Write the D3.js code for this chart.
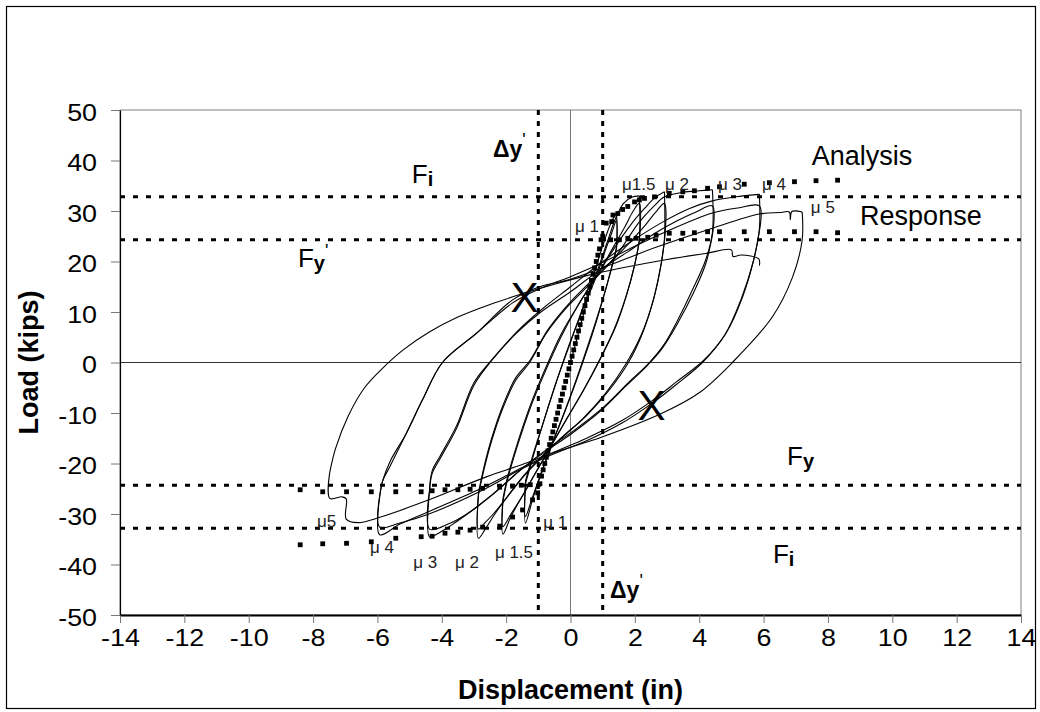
<!DOCTYPE html>
<html><head><meta charset="utf-8">
<script src="https://cdn.jsdelivr.net/npm/d3@7"></script>
<style>body{margin:0;background:#fff}svg{display:block}text{font-family:Arial,"Liberation Sans",sans-serif}</style>
</head><body>
<svg id="c" width="1040" height="712"></svg>
<script>
// ---------- data ----------
const xTicks = [-14,-12,-10,-8,-6,-4,-2,0,2,4,6,8,10,12,14];
const yTicks = [-50,-40,-30,-20,-10,0,10,20,30,40,50];
const refLoads = [32.8, 24.3, -24.3, -32.8];   // Fi, Fy', -Fy, -Fi
const refDisps = [-1, 1];                       // -Δy', Δy'

// measured hysteresis (displacement in, load kips)
const init = [[0,0],[0.4,9.5],[0.8,19],[1.1,25],[1.3,28.2],[1.43,29.6]];
const u1a = [[1.43,29.6],[1.43,23.0],[1.28,19],[1.05,13.5],[0.7,6],[0.3,-1.5],[-0.1,-8.5],[-0.5,-15],[-0.85,-21],[-1.15,-26.5],[-1.4,-31.8],[-1.4,-24.0]];
const r1a = [[-1.4,-24.0],[-1.2,-19.5],[-0.9,-13],[-0.5,-5],[-0.1,2.5],[0.35,10],[0.8,17],[1.1,22.5],[1.3,26],[1.43,28.2],[1.43,22.5]];
const u1b = [[1.43,22.5],[1.25,18],[1.0,12.5],[0.6,4.5],[0.2,-3],[-0.2,-10],[-0.6,-16.5],[-0.95,-22.5],[-1.2,-27],[-1.4,-30.5],[-1.4,-23.5]];
const r1b = [[-1.4,-23.5],[-1.2,-19],[-0.85,-12],[-0.45,-4],[0,4],[0.45,12],[0.85,18.5],[1.15,24],[1.4,28.5],[1.65,31.5],[1.9,32.7],[2.14,33.0]];
const u15a = [[2.14,33.0],[2.14,24.5],[2.0,19.5],[1.75,13.5],[1.4,7],[0.95,1],[0.45,-5],[-0.1,-11],[-0.6,-16.5],[-1.05,-21.5],[-1.5,-26.5],[-1.85,-30.5],[-2.1,-34.0],[-2.1,-27.5]];
const r15a = [[-2.1,-27.5],[-1.95,-23],[-1.65,-16.5],[-1.25,-9],[-0.8,-2],[-0.3,5],[0.25,11.5],[0.85,17.5],[1.3,22.5],[1.7,27],[1.95,30],[2.14,31.5],[2.14,24.0]];
const u15b = [[2.14,24.0],[1.98,19],[1.72,13],[1.35,6.5],[0.9,0.5],[0.4,-5.5],[-0.15,-11.5],[-0.65,-17],[-1.1,-22],[-1.5,-26.5],[-1.85,-30],[-2.1,-32.5],[-2.1,-27.0]];
const r15b = [[-2.1,-27.0],[-1.95,-22.5],[-1.65,-16],[-1.25,-8.5],[-0.8,-1.5],[-0.3,5.5],[0.3,12],[0.9,18],[1.4,23],[1.9,27.5],[2.3,30.5],[2.6,32.5],[2.92,33.8]];
const u2a = [[2.92,33.8],[2.92,24.6],[2.82,19.5],[2.6,13],[2.25,6],[1.8,0],[1.2,-5.5],[0.5,-10.5],[-0.2,-14.5],[-0.8,-18],[-1.4,-22],[-1.9,-26],[-2.35,-30],[-2.65,-33],[-2.86,-34.8],[-2.86,-26.2]];
const r2a = [[-2.86,-26.2],[-2.7,-21.5],[-2.45,-15.5],[-2.1,-9],[-1.7,-3.5],[-1.27,0],[-0.75,5.8],[-0.1,11],[0.6,15.5],[1.2,19.5],[1.8,23.5],[2.3,27],[2.65,29.8],[2.92,31.5],[2.92,24.0]];
const u2b = [[2.92,24.0],[2.8,19],[2.58,12.5],[2.2,5.5],[1.7,-0.5],[1.1,-6],[0.4,-11],[-0.3,-15],[-0.85,-18.5],[-1.45,-22.5],[-1.95,-26.5],[-2.4,-30],[-2.7,-32],[-2.86,-33],[-2.86,-25.8]];
const r2b = [[-2.86,-25.8],[-2.7,-21],[-2.45,-15],[-2.1,-8.5],[-1.7,-3],[-1.25,0.5],[-0.7,6.5],[0,12],[0.7,16.5],[1.4,21],[2.1,27.5],[2.6,31],[2.92,32.8],[3.5,33.7],[4.0,34.0],[4.41,34.2]];
const u3a = [[4.41,34.2],[4.41,25.8],[4.2,20.3],[3.79,14.4],[3.38,9],[2.9,3.5],[2.45,0],[1.8,-4],[1.0,-9],[0.1,-13.5],[-0.7,-17],[-1.5,-21],[-2.3,-25.5],[-3.0,-29],[-3.7,-32.2],[-4.1,-33.8],[-4.38,-34.5],[-4.38,-25.5]];
const r3a = [[-4.38,-25.5],[-4.3,-22],[-4.05,-19],[-3.54,-13],[-3.0,-4.5],[-2.5,0],[-1.68,5.8],[-0.96,9.8],[0,14],[0.9,18.3],[1.8,22],[2.6,25.5],[3.3,28],[3.9,29.8],[4.41,31.0],[4.41,25.2]];
const u3b = [[4.41,25.2],[4.2,19.5],[3.8,13.5],[3.35,8],[2.85,2.8],[2.4,-0.5],[1.75,-4.5],[0.95,-9.5],[0.05,-14],[-0.75,-17.5],[-1.6,-21.5],[-2.4,-26],[-3.1,-29.5],[-3.8,-32],[-4.38,-33.0],[-4.38,-25.2]];
const r3b = [[-4.38,-25.2],[-4.3,-21.5],[-4.05,-18.5],[-3.54,-12.5],[-3.0,-4],[-2.45,0.5],[-1.6,6.5],[-0.9,10.5],[0,15],[0.9,19.5],[1.9,24],[2.86,27.8],[3.7,30.5],[4.41,32.0],[5.25,32.9],[5.87,33.3]];
const u4a = [[5.87,33.3],[5.87,26.5],[5.7,20.5],[5.35,13],[4.85,6],[4.15,0.5],[3.3,-3.8],[2.55,-7.5],[1.6,-11.5],[0.5,-15],[-0.6,-18],[-1.5,-20.8],[-2.8,-25],[-4.4,-29.5],[-5.3,-32],[-5.93,-34.1],[-5.93,-26.6]];
const r4a = [[-5.93,-26.6],[-5.83,-23.3],[-5.6,-19.5],[-5.1,-14],[-4.6,-7.4],[-3.98,0],[-2.92,5.8],[-1.8,11.8],[-1.0,14.5],[0,17],[0.9,19.5],[2.0,23],[2.86,25.6],[4.41,29.6],[5.2,30.6],[5.87,31.0],[5.87,26.0]];
const u4b = [[5.87,26.0],[5.68,20],[5.3,12.5],[4.8,5.5],[4.1,0],[3.3,-4.3],[2.55,-8],[1.6,-12],[0.5,-15.5],[-0.6,-18.3],[-1.5,-21],[-2.8,-25.5],[-4.4,-30],[-5.3,-31.8],[-5.93,-32.6],[-5.93,-26.4]];
const r4b = [[-5.93,-26.4],[-5.83,-23.3],[-5.62,-20.7],[-5.1,-14],[-4.6,-7.4],[-3.98,0],[-2.92,5.8],[-1.8,12.4],[-0.96,15],[0,16.5],[1.1,19],[2.7,22.9],[4.41,26.6],[5.87,29.4],[6.5,29.7],[6.8,29.8],[6.83,28.3],[6.88,29.9],[7.2,29.8]];
const u5 = [[7.2,29.8],[7.2,24.3],[6.9,16.9],[6.27,9],[5.03,0],[4.0,-6],[2.86,-10],[1.0,-14.7],[-0.6,-18],[-1.5,-20.2],[-2.6,-22.6],[-4.4,-27.2],[-5.9,-30.6],[-6.6,-31.7],[-6.97,-31.0],[-6.97,-27.0],[-7.1,-26.6],[-7.48,-26.9],[-7.48,-21.7]];
const r5 = [[-7.48,-21.7],[-7.3,-17],[-6.9,-10.5],[-6.4,-5],[-5.85,-1.2],[-5.2,2.5],[-4.4,6],[-3.5,9],[-2.5,11.5],[-1.5,13.6],[-0.5,15.5],[0.5,17.2],[1.5,18.6],[3,20.4],[4.2,21.6],[5.0,22.3],[5.05,21.0],[5.3,21.3],[5.85,20.5],[5.87,19.2]];
const responseLoops = [init,u1a,r1a,u1b,r1b,u15a,r15a,u15b,r15b,u2a,r2a,u2b,r2b,u3a,r3a,u3b,r3b,u4a,r4a,u4b,r4b,u5,r5];

// analysis (square markers)
const analysisPos = [[0,0],[0.1,2.5],[0.2,5],[0.3,7.5],[0.4,10],[0.5,12.5],[0.6,15],[0.7,17.5],[0.8,20],[0.9,22.5],[1.0,25],[1.11,27.6],[1.28,27.9],[1.32,29.2],[1.47,29.5],[1.62,30.3],[1.78,30.9],[1.99,31.8],[2.14,32.2],[2.3,32.5],[2.61,32.8],[3.07,33.5],[3.49,33.8],[3.85,34.0],[4.26,34.5],[4.63,34.8],[5.4,35.3],[6.18,35.6],[6.96,35.8],[7.63,36.0],[8.3,36.1]];
const analysisNeg = [[-0.1,-2.5],[-0.2,-5],[-0.3,-7.5],[-0.4,-10],[-0.5,-12.5],[-0.6,-15],[-0.7,-17.5],[-0.8,-20],[-0.9,-22.5],[-1.02,-25.8],[-1.18,-27.2],[-1.49,-29.2],[-1.8,-30.6],[-2.2,-32.4],[-2.73,-32.6],[-3.12,-33.2],[-3.5,-33.6],[-3.9,-33.8],[-4.3,-34.4],[-4.64,-34.5],[-5.43,-34.8],[-6.19,-35.5],[-6.96,-35.8],[-7.7,-35.9],[-8.4,-36.1]];
const responsePos = [[0.05,1.25],[0.15,3.75],[0.25,6.25],[0.35,8.75],[0.45,11.25],[0.55,13.75],[0.65,16.25],[0.75,18.75],[0.85,21.25],[0.95,24.3],[1.25,24.3],[1.52,24.3],[1.78,24.6],[2.04,24.6],[2.4,24.8],[2.66,25.2],[3.07,25.6],[3.49,25.6],[3.85,25.7],[4.26,25.9],[4.63,25.9],[5.4,25.9],[6.18,25.9],[6.96,25.9],[7.63,25.9],[8.3,25.7]];
const responseNeg = [[-0.05,-1.25],[-0.15,-3.75],[-0.25,-6.25],[-0.35,-8.75],[-0.45,-11.25],[-0.55,-13.75],[-0.65,-16.25],[-0.75,-18.75],[-0.85,-21.25],[-0.95,-24.0],[-1.25,-24.2],[-1.53,-24.3],[-1.8,-24.5],[-2.2,-24.7],[-2.73,-24.9],[-3.12,-25.1],[-3.5,-25.2],[-3.9,-25.2],[-4.3,-25.4],[-4.64,-25.6],[-5.43,-25.6],[-6.19,-25.6],[-6.96,-25.6],[-7.7,-25.6],[-8.4,-25.2]];

const crossMarks = [[-1.43,13.0],[2.52,-8.4]];
const muLabels = [
  {t:"\u03bc1.5", x:1.6, y:34.2}, {t:"\u03bc 2", x:2.94, y:34.2}, {t:"\u03bc 3", x:4.58, y:34.2},
  {t:"\u03bc 4", x:5.95, y:34.2}, {t:"\u03bc 5", x:7.47, y:29.6}, {t:"\u03bc 1", x:0.14, y:25.8},
  {t:"\u03bc5", x:-7.88, y:-32.6}, {t:"\u03bc 4", x:-6.23, y:-37.7}, {t:"\u03bc 3", x:-4.89, y:-40.7},
  {t:"\u03bc 2", x:-3.59, y:-40.7}, {t:"\u03bc 1.5", x:-2.35, y:-38.7}, {t:"\u03bc 1", x:-0.85, y:-32.8}
];

// ---------- drawing ----------
const svg = d3.select('#c');
const x = d3.scaleLinear().domain([-14,14]).range([120,1021]);
const y = d3.scaleLinear().domain([-50,50]).range([615,110]);

svg.append('rect').attr('x',6.5).attr('y',6.5).attr('width',1029).attr('height',702)
  .attr('fill','#fff').attr('stroke','#000').attr('stroke-width',1.2);

// plot area border
svg.append('rect').attr('x',x(-14)).attr('y',y(50)).attr('width',x(14)-x(-14)).attr('height',y(-50)-y(50))
  .attr('fill','none').attr('stroke','#808080').attr('stroke-width',1);

// zero lines
svg.append('line').attr('x1',x(-14)).attr('x2',x(14)).attr('y1',y(0)).attr('y2',y(0)).attr('stroke','#333').attr('stroke-width',1);
svg.append('line').attr('x1',x(0)).attr('x2',x(0)).attr('y1',y(50)).attr('y2',y(-50)).attr('stroke','#777').attr('stroke-width',1);

// reference dotted lines
svg.selectAll('.rh').data(refLoads).join('line')
  .attr('x1',x(-14)).attr('x2',x(14)).attr('y1',d=>y(d)).attr('y2',d=>y(d))
  .attr('stroke','#000').attr('stroke-width',3).attr('stroke-dasharray','5,8');
svg.selectAll('.rv').data(refDisps).join('line')
  .attr('x1',d=>x(d)).attr('x2',d=>x(d)).attr('y1',y(50)).attr('y2',y(-50))
  .attr('stroke','#000').attr('stroke-width',3).attr('stroke-dasharray','5,6');

// hysteresis
const line = d3.line().x(d=>x(d[0])).y(d=>y(d[1])).curve(d3.curveCatmullRom.alpha(0.5));
svg.append('g').selectAll('path').data(responseLoops).join('path')
  .attr('d',line).attr('fill','none').attr('stroke','#000').attr('stroke-width',1.1);

// analysis squares
const sq = 4.8;
[analysisPos, analysisNeg, responsePos, responseNeg].forEach(arr=>{
  svg.append('g').selectAll('rect').data(arr).join('rect')
    .attr('x',d=>x(d[0])-sq/2).attr('y',d=>y(d[1])-sq/2).attr('width',sq).attr('height',sq).attr('fill','#000');
});

// axes
const gx = svg.append('g').attr('transform',`translate(0,${y(-50)})`)
  .call(d3.axisBottom(x).tickValues(xTicks).tickSize(8).tickSizeOuter(0).tickFormat(d3.format('d')));
gx.select('.domain').attr('stroke','#000').attr('stroke-width',2.2);
gx.selectAll('.tick line').attr('stroke','#777');
gx.selectAll('.tick text').attr('font-size',24).attr('fill','#000').attr('y',31).attr('dy',0)
  .attr('transform','scale(1.12,1)').text(d=>d<0?'-'+Math.abs(d):d);

const gy = svg.append('g').attr('transform',`translate(${x(-14)},0)`)
  .call(d3.axisLeft(y).tickValues(yTicks).tickSize(9).tickSizeOuter(0));
gy.select('.domain').attr('stroke','#000').attr('stroke-width',1.2);
gy.selectAll('.tick line').attr('stroke','#777');
gy.selectAll('.tick text').attr('font-size',24).attr('fill','#000').attr('x',-20.5).attr('y',2).attr('dy','0.35em')
  .attr('transform','scale(1.12,1)').text(d=>d<0?'-'+Math.abs(d):d);

// titles
svg.append('text').attr('x',x(0)).attr('y',699).attr('text-anchor','middle')
  .attr('font-size',27).attr('font-weight','bold').text('Displacement (in)');
svg.append('text').attr('transform',`translate(38,${y(0)}) rotate(-90)`).attr('text-anchor','middle')
  .attr('font-size',27).attr('font-weight','bold').text('Load (kips)');

// cross marks
svg.selectAll('.xm').data(crossMarks).join('text')
  .attr('x',d=>x(d[0])).attr('y',d=>y(d[1])+15).attr('text-anchor','middle')
  .attr('font-size',42).text('X');

// mu labels
svg.selectAll('.mu').data(muLabels).join('text')
  .attr('x',d=>x(d.x)).attr('y',d=>y(d.y)).attr('font-size',17).attr('fill','#222').text(d=>d.t);

// annotations
function lab(xd, yd, parts){
  const t = svg.append('text').attr('x',x(xd)).attr('y',y(yd));
  parts.forEach(p=>{
    const s = t.append('tspan').text(p.t).attr('font-size',p.fs);
    if(p.b) s.attr('font-weight','bold');
    if(p.dy) s.attr('dy',p.dy);
  });
}
lab(7.5, 39.1, [{t:'Analysis',fs:27}]);
lab(9.0, 27.2, [{t:'Response',fs:27}]);
lab(-4.93, 35.5, [{t:'F',fs:26},{t:'i',fs:20,b:1,dy:3}]);
lab(-8.47, 18.9, [{t:'F',fs:26},{t:'y',fs:20,b:1,dy:3},{t:"'",fs:18,dy:-13}]);
lab(6.73, -20.3, [{t:'F',fs:26},{t:'y',fs:20,b:1,dy:3}]);
lab(6.29, -39.7, [{t:'F',fs:26},{t:'i',fs:20,b:1,dy:3}]);
lab(-2.41, 40.7, [{t:'\u0394y',fs:23,b:1},{t:"'",fs:18,dy:-11}]);
lab(1.23, -46.6, [{t:'\u0394y',fs:23,b:1},{t:"'",fs:18,dy:-11}]);
</script></body></html>
